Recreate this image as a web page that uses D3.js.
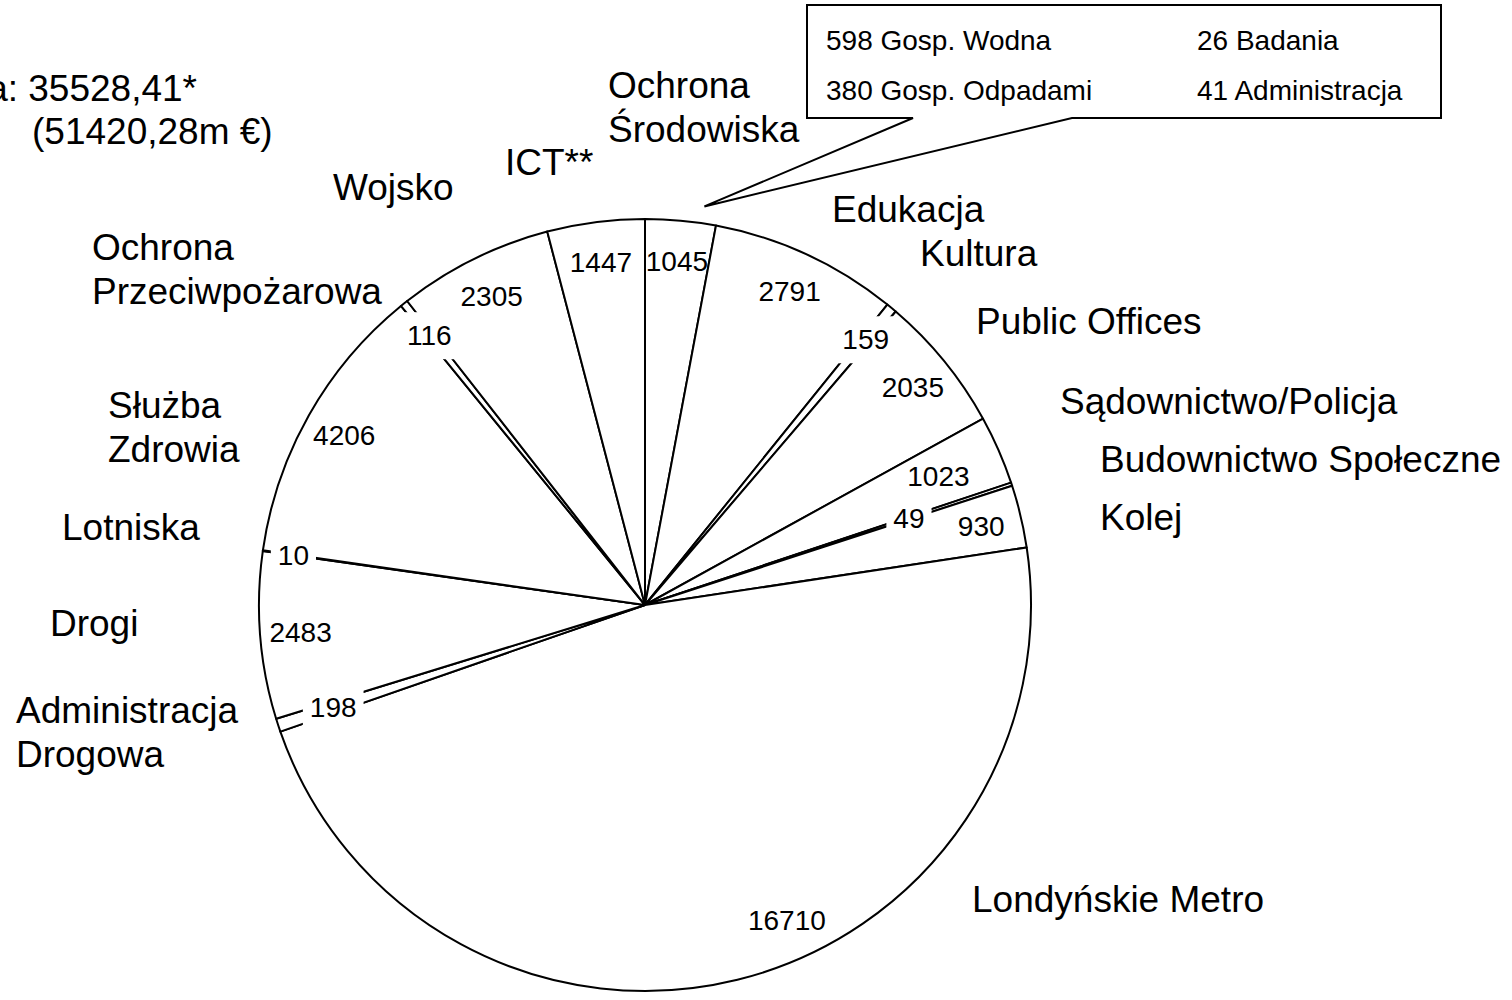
<!DOCTYPE html>
<html>
<head>
<meta charset="utf-8">
<script src="https://cdn.jsdelivr.net/npm/d3@7"></script>
<style>
    body { margin: 0; background: #fff; }
    svg { display: block; font-family: "Liberation Sans", Arial, sans-serif; }
</style>
</head>
<body>
<svg id="chart" width="1512" height="1000"></svg>
<script>
// Slices, clockwise from 12 o'clock
var categories = ["Ochrona Środowiska", "Edukacja", "Kultura", "Public Offices",
    "Sądownictwo/Policja", "Budownictwo Społeczne", "Kolej", "Londyńskie Metro",
    "Administracja Drogowa", "Drogi", "Lotniska", "Służba Zdrowia",
    "Ochrona Przeciwpożarowa", "Wojsko", "ICT**"];
var values = [1045, 2791, 159, 2035, 1023, 49, 930, 16710, 198, 2483, 10, 4206, 116, 2305, 1447];

// breakdown of "Ochrona Środowiska" shown in the callout
var envNames = ["Gosp. Wodna", "Gosp. Odpadami", "Badania", "Administracja"];
var envValues = [598, 380, 26, 41];

var totalLines = ["Suma: 35528,41*", "(51420,28m €)"];

// where the category names sit (layout only)
var nameLayout = {
    "Ochrona Środowiska":      {x: 608, y: 98,  wrap: true},
    "ICT**":                   {x: 505, y: 175},
    "Wojsko":                  {x: 333, y: 200},
    "Ochrona Przeciwpożarowa": {x: 92,  y: 260, wrap: true},
    "Służba Zdrowia":          {x: 108, y: 418, wrap: true},
    "Lotniska":                {x: 62,  y: 540},
    "Drogi":                   {x: 50,  y: 636},
    "Administracja Drogowa":   {x: 16,  y: 723, wrap: true},
    "Edukacja":                {x: 832, y: 222},
    "Kultura":                 {x: 920, y: 266},
    "Public Offices":          {x: 976, y: 334},
    "Sądownictwo/Policja":     {x: 1060, y: 414},
    "Budownictwo Społeczne":   {x: 1100, y: 472},
    "Kolej":                   {x: 1100, y: 530},
    "Londyńskie Metro":        {x: 972, y: 912}
};

// value labels that are not at the default radius / mid angle
var valueLabelAdjust = {
    4:  {r: 0.83},
    5:  {r: 0.72},
    7:  {a: -10.4},
    8:  {r: 0.85},
    10: {r: 0.92}
};

var svg = d3.select("#chart");
var cx = 645, cy = 605, radius = 386;

var pie = d3.pie().sort(null).value(function (d) { return d; });
var arcs = pie(values);

var arc = d3.arc().innerRadius(0).outerRadius(radius);

var g = svg.append("g").attr("transform", "translate(" + cx + "," + cy + ")");

g.selectAll("path.slice")
    .data(arcs)
    .enter()
    .append("path")
    .attr("class", "slice")
    .attr("d", arc)
    .attr("fill", "#fff")
    .attr("stroke", "#000")
    .attr("stroke-width", 2)
    .attr("stroke-linejoin", "round");

// value labels
function labelPos(d, i) {
    var adj = valueLabelAdjust[i] || {};
    var rr = radius * (adj.r || 0.895);
    var a = (d.startAngle + d.endAngle) / 2 + (adj.a || 0) * Math.PI / 180;
    return [Math.sin(a) * rr, -Math.cos(a) * rr];
}

var labels = g.selectAll("g.vlabel")
    .data(arcs)
    .enter()
    .append("g")
    .attr("class", "vlabel")
    .attr("transform", function (d, i) {
        var p = labelPos(d, i);
        return "translate(" + p[0] + "," + p[1] + ")";
    });

labels.append("text")
    .attr("text-anchor", "middle")
    .attr("dy", "0.36em")
    .style("font-size", "28px")
    .text(function (d) { return d.data; });

// thin slices: the label sits on the boundary lines, so blank them out behind it
labels.each(function (d) {
    if (d.endAngle - d.startAngle > 0.05) return;
    var sel = d3.select(this);
    var bb = sel.select("text").node().getBBox();
    sel.insert("rect", "text")
        .attr("x", bb.x - 7)
        .attr("y", bb.y - 8)
        .attr("width", bb.width + 14)
        .attr("height", bb.height + 16)
        .attr("fill", "#fff");
});

// category names
categories.forEach(function (name) {
    var lay = nameLayout[name];
    var lines = lay.wrap ? name.split(" ") : [name];
    var t = svg.append("text")
        .attr("x", lay.x)
        .attr("y", lay.y)
        .style("font-size", "37px");
    lines.forEach(function (line, k) {
        t.append("tspan")
            .attr("x", lay.x)
            .attr("dy", k === 0 ? 0 : 43.5)
            .text(line);
    });
});

// total, top left (cut by the left edge, as in the original)
svg.append("text")
    .attr("x", 197)
    .attr("y", 101)
    .attr("text-anchor", "end")
    .style("font-size", "37px")
    .text(totalLines[0]);
svg.append("text")
    .attr("x", 32)
    .attr("y", 144)
    .style("font-size", "37px")
    .text(totalLines[1]);

// callout for the first slice
var env = arcs[0];
var tipAngle = env.startAngle + (env.endAngle - env.startAngle) * 0.8;
var tipX = cx + Math.sin(tipAngle) * radius * 1.044,
    tipY = cy - Math.cos(tipAngle) * radius * 1.044;

var box = {x0: 807, y0: 5, x1: 1441, y1: 118};
svg.append("path")
    .attr("d", "M" + box.x0 + "," + box.y0 +
        "H" + box.x1 + "V" + box.y1 +
        "H1072L" + tipX + "," + tipY +
        "L913," + box.y1 + "H" + box.x0 + "Z")
    .attr("fill", "#fff")
    .attr("stroke", "#000")
    .attr("stroke-width", 2)
    .attr("stroke-linejoin", "miter");

var colX = [826, 1197], rowY = [50, 100];
envNames.forEach(function (n, i) {
    svg.append("text")
        .attr("x", colX[Math.floor(i / 2)])
        .attr("y", rowY[i % 2])
        .style("font-size", "28px")
        .text(envValues[i] + " " + n);
});
</script>
</body>
</html>
